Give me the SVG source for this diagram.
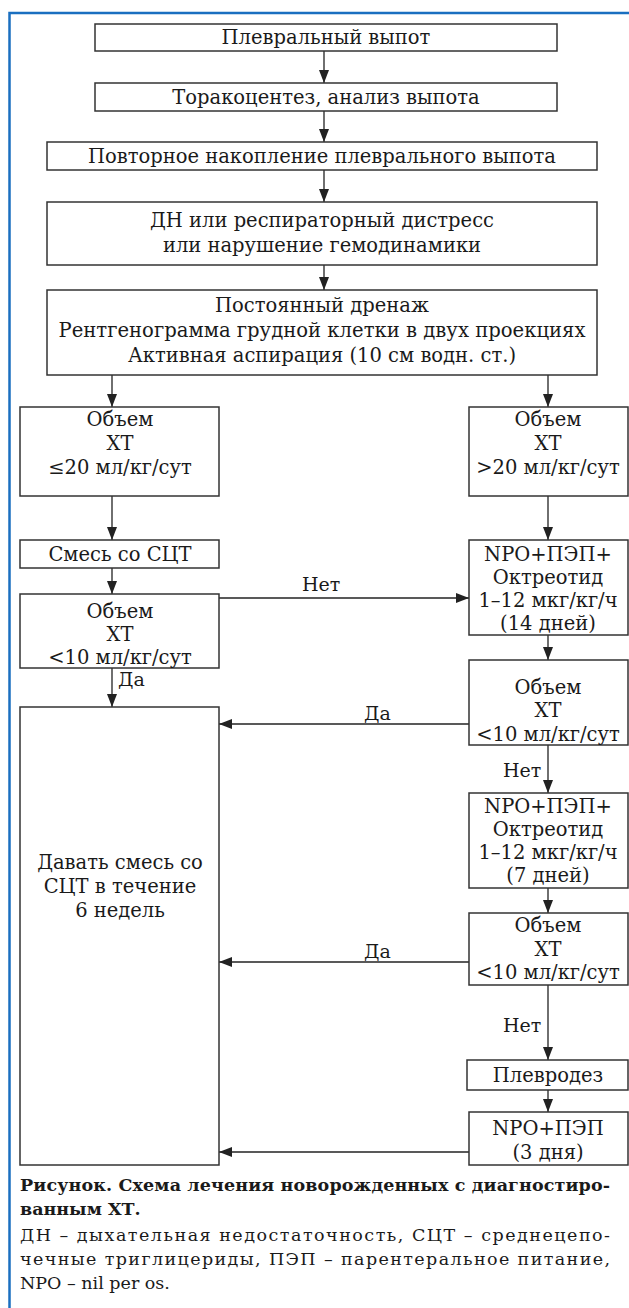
<svg xmlns="http://www.w3.org/2000/svg" width="629" height="1308" viewBox="0 0 629 1308">
<style>
.b{fill:#fff;stroke:#333;stroke-width:1.5}
.t{font-family:"DejaVu Serif","Liberation Serif",serif;font-size:19.5px;fill:#1a1a1a;text-anchor:middle}
.c{stroke:#222;stroke-width:1.3;fill:none}
.l{font-family:"DejaVu Serif","Liberation Serif",serif;font-size:19px;fill:#1a1a1a}
.cap{font-family:"DejaVu Serif","Liberation Serif",serif;font-size:17.5px;fill:#1a1a1a}
</style>
<defs>
<marker id="a" viewBox="0 0 13 10" refX="13" refY="5" markerWidth="13" markerHeight="10" markerUnits="userSpaceOnUse" orient="auto">
<path d="M0,0 L13,5 L0,10 Z" fill="#222"/>
</marker>
</defs>
<rect width="629" height="1308" fill="#fff"/>
<path d="M9.5,1308 V13 H629" stroke="#1a6fc0" stroke-width="2.5" fill="none"/>
<g id="connectors">
<path class="c" d="M324,51 V83" marker-end="url(#a)"/>
<path class="c" d="M324,111 V142" marker-end="url(#a)"/>
<path class="c" d="M324,170 V202" marker-end="url(#a)"/>
<path class="c" d="M324,265 V290" marker-end="url(#a)"/>
<path class="c" d="M112,375 V407" marker-end="url(#a)"/>
<path class="c" d="M548,375 V407" marker-end="url(#a)"/>
<path class="c" d="M112,496 V540" marker-end="url(#a)"/>
<path class="c" d="M548,496 V540" marker-end="url(#a)"/>
<path class="c" d="M112,568 V594" marker-end="url(#a)"/>
<path class="c" d="M219,598 H469" marker-end="url(#a)"/>
<path class="c" d="M112,668 V707" marker-end="url(#a)"/>
<path class="c" d="M548,635 V660" marker-end="url(#a)"/>
<path class="c" d="M469,724 H219" marker-end="url(#a)"/>
<path class="c" d="M548,745 V793" marker-end="url(#a)"/>
<path class="c" d="M548,888 V913" marker-end="url(#a)"/>
<path class="c" d="M469,962 H219" marker-end="url(#a)"/>
<path class="c" d="M548,985 V1060" marker-end="url(#a)"/>
<path class="c" d="M548,1090 V1112" marker-end="url(#a)"/>
<path class="c" d="M469,1152 H219" marker-end="url(#a)"/>
<text class="l" x="302" y="591">Нет</text>
<text class="l" x="118" y="686">Да</text>
<text class="l" x="364" y="720">Да</text>
<text class="l" x="503" y="777">Нет</text>
<text class="l" x="364" y="958">Да</text>
<text class="l" x="503" y="1032">Нет</text>
</g>
<g id="n1"><rect class="b" x="95" y="24" width="462" height="27"/><text class="t" x="326" y="44">Плевральный выпот</text></g>
<g id="n2"><rect class="b" x="95" y="83" width="462" height="28"/><text class="t" x="326" y="104">Торакоцентез, анализ выпота</text></g>
<g id="n3"><rect class="b" x="47" y="142" width="550" height="28"/><text class="t" x="322" y="163">Повторное накопление плеврального выпота</text></g>
<g id="n4"><rect class="b" x="47" y="202" width="550" height="63"/><text class="t" x="322" y="227">ДН или респираторный дистресс</text><text class="t" x="322" y="252">или нарушение гемодинамики</text></g>
<g id="n5"><rect class="b" x="47" y="290" width="550" height="85"/><text class="t" x="322" y="312">Постоянный дренаж</text><text class="t" x="322" y="337" textLength="527" lengthAdjust="spacingAndGlyphs">Рентгенограмма грудной клетки в двух проекциях</text><text class="t" x="322" y="362">Активная аспирация (10 см водн. ст.)</text></g>
<g id="l1"><rect class="b" x="20" y="407" width="199" height="89"/><text class="t" x="120" y="426">Объем</text><text class="t" x="120" y="450">ХТ</text><text class="t" x="120" y="474">≤20 мл/кг/сут</text></g>
<g id="l2"><rect class="b" x="20" y="540" width="199" height="28"/><text class="t" x="120" y="561">Смесь со СЦТ</text></g>
<g id="l3"><rect class="b" x="20" y="594" width="199" height="74"/><text class="t" x="120" y="618">Объем</text><text class="t" x="120" y="641">ХТ</text><text class="t" x="120" y="664">&lt;10 мл/кг/сут</text></g>
<g id="l4"><rect class="b" x="20" y="707" width="199" height="458"/><text class="t" x="120" y="869">Давать смесь со</text><text class="t" x="120" y="893">СЦТ в течение</text><text class="t" x="120" y="917">6 недель</text></g>
<g id="r1"><rect class="b" x="469" y="407" width="159" height="89"/><text class="t" x="548" y="426">Объем</text><text class="t" x="548" y="450">ХТ</text><text class="t" x="548" y="474">&gt;20 мл/кг/сут</text></g>
<g id="r2"><rect class="b" x="469" y="540" width="159" height="95"/><text class="t" x="548" y="561">NPO+ПЭП+</text><text class="t" x="548" y="584">Октреотид</text><text class="t" x="548" y="607">1–12 мкг/кг/ч</text><text class="t" x="548" y="630">(14 дней)</text></g>
<g id="r3"><rect class="b" x="469" y="660" width="159" height="85"/><text class="t" x="548" y="694">Объем</text><text class="t" x="548" y="717">ХТ</text><text class="t" x="548" y="741">&lt;10 мл/кг/сут</text></g>
<g id="r4"><rect class="b" x="469" y="793" width="159" height="95"/><text class="t" x="548" y="813">NPO+ПЭП+</text><text class="t" x="548" y="836">Октреотид</text><text class="t" x="548" y="859">1–12 мкг/кг/ч</text><text class="t" x="548" y="882">(7 дней)</text></g>
<g id="r5"><rect class="b" x="469" y="913" width="159" height="72"/><text class="t" x="548" y="932">Объем</text><text class="t" x="548" y="956">ХТ</text><text class="t" x="548" y="979">&lt;10 мл/кг/сут</text></g>
<g id="r6"><rect class="b" x="467" y="1060" width="161" height="30"/><text class="t" x="548" y="1082">Плевродез</text></g>
<g id="r7"><rect class="b" x="469" y="1112" width="159" height="53"/><text class="t" x="548" y="1135">NPO+ПЭП</text><text class="t" x="548" y="1159">(3 дня)</text></g>
<g id="caption">
<text class="cap" x="20" y="1191" font-weight="bold" textLength="590" lengthAdjust="spacing">Рисунок. Схема лечения новорожденных с диагностиро-</text>
<text class="cap" x="20" y="1215" font-weight="bold">ванным ХТ.</text>
<text class="cap" x="20" y="1241" textLength="590" lengthAdjust="spacing">ДН – дыхательная недостаточность, СЦТ –  среднецепо-</text>
<text class="cap" x="20" y="1265" textLength="590" lengthAdjust="spacing">чечные триглицериды, ПЭП – парентеральное питание,</text>
<text class="cap" x="20" y="1289">NPO – nil per os.</text>
</g>
</svg>
